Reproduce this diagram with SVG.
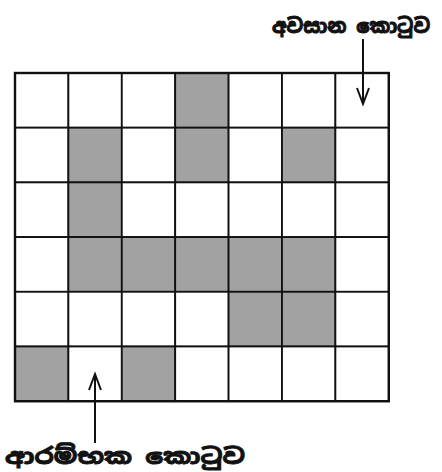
<svg xmlns="http://www.w3.org/2000/svg" width="442" height="472" viewBox="0 0 442 472">
<style>
.cell{fill:#ffffff;stroke:#111;stroke-width:1.8}
.sh{fill:#a2a2a2;stroke:#111;stroke-width:1.8}
.lbl{font-family:"Noto Sans Sinhala","Noto Sans","DejaVu Sans",sans-serif;font-size:22px;font-weight:bold;fill:#111;stroke:#111;stroke-width:0.9}
.top{font-size:20px;stroke-width:1}
.arr{stroke:#111;stroke-width:2;fill:none}
</style>
<rect width="442" height="472" fill="#fff"/>
<g id="grid">
<rect class="cell" x="15" y="73" width="53.4" height="54.7"/>
<rect class="cell" x="68.4" y="73" width="53.4" height="54.7"/>
<rect class="cell" x="121.8" y="73" width="53.4" height="54.7"/>
<rect class="sh" x="175.2" y="73" width="53.4" height="54.7"/>
<rect class="cell" x="228.6" y="73" width="53.4" height="54.7"/>
<rect class="cell" x="282" y="73" width="53.4" height="54.7"/>
<rect class="cell" x="335.4" y="73" width="53.4" height="54.7"/>

<rect class="cell" x="15" y="127.7" width="53.4" height="54.7"/>
<rect class="sh" x="68.4" y="127.7" width="53.4" height="54.7"/>
<rect class="cell" x="121.8" y="127.7" width="53.4" height="54.7"/>
<rect class="sh" x="175.2" y="127.7" width="53.4" height="54.7"/>
<rect class="cell" x="228.6" y="127.7" width="53.4" height="54.7"/>
<rect class="sh" x="282" y="127.7" width="53.4" height="54.7"/>
<rect class="cell" x="335.4" y="127.7" width="53.4" height="54.7"/>

<rect class="cell" x="15" y="182.4" width="53.4" height="54.7"/>
<rect class="sh" x="68.4" y="182.4" width="53.4" height="54.7"/>
<rect class="cell" x="121.8" y="182.4" width="53.4" height="54.7"/>
<rect class="cell" x="175.2" y="182.4" width="53.4" height="54.7"/>
<rect class="cell" x="228.6" y="182.4" width="53.4" height="54.7"/>
<rect class="cell" x="282" y="182.4" width="53.4" height="54.7"/>
<rect class="cell" x="335.4" y="182.4" width="53.4" height="54.7"/>

<rect class="cell" x="15" y="237.1" width="53.4" height="54.7"/>
<rect class="sh" x="68.4" y="237.1" width="53.4" height="54.7"/>
<rect class="sh" x="121.8" y="237.1" width="53.4" height="54.7"/>
<rect class="sh" x="175.2" y="237.1" width="53.4" height="54.7"/>
<rect class="sh" x="228.6" y="237.1" width="53.4" height="54.7"/>
<rect class="sh" x="282" y="237.1" width="53.4" height="54.7"/>
<rect class="cell" x="335.4" y="237.1" width="53.4" height="54.7"/>

<rect class="cell" x="15" y="291.8" width="53.4" height="54.7"/>
<rect class="cell" x="68.4" y="291.8" width="53.4" height="54.7"/>
<rect class="cell" x="121.8" y="291.8" width="53.4" height="54.7"/>
<rect class="cell" x="175.2" y="291.8" width="53.4" height="54.7"/>
<rect class="sh" x="228.6" y="291.8" width="53.4" height="54.7"/>
<rect class="sh" x="282" y="291.8" width="53.4" height="54.7"/>
<rect class="cell" x="335.4" y="291.8" width="53.4" height="54.7"/>

<rect class="sh" x="15" y="346.5" width="53.4" height="54.7"/>
<rect class="cell" x="68.4" y="346.5" width="53.4" height="54.7"/>
<rect class="sh" x="121.8" y="346.5" width="53.4" height="54.7"/>
<rect class="cell" x="175.2" y="346.5" width="53.4" height="54.7"/>
<rect class="cell" x="228.6" y="346.5" width="53.4" height="54.7"/>
<rect class="cell" x="282" y="346.5" width="53.4" height="54.7"/>
<rect class="cell" x="335.4" y="346.5" width="53.4" height="54.7"/>
<rect x="15" y="73" width="373.8" height="328.2" fill="none" stroke="#111" stroke-width="2.4"/>
</g>
<g id="connectors">
<path class="arr" d="M363 39 V104 M357 88 L363 104 L369 88"/>
<path class="arr" d="M95 443 V374 M89 390 L95 374 L101 390"/>
</g>
<g id="label-end">
<text class="lbl top" x="430" y="33" text-anchor="end" textLength="158" lengthAdjust="spacingAndGlyphs">අවසාන කොටුව</text>
</g>
<g id="label-start">
<text class="lbl" x="5" y="464" textLength="240" lengthAdjust="spacingAndGlyphs">ආරම්භක කොටුව</text>
</g>
</svg>
